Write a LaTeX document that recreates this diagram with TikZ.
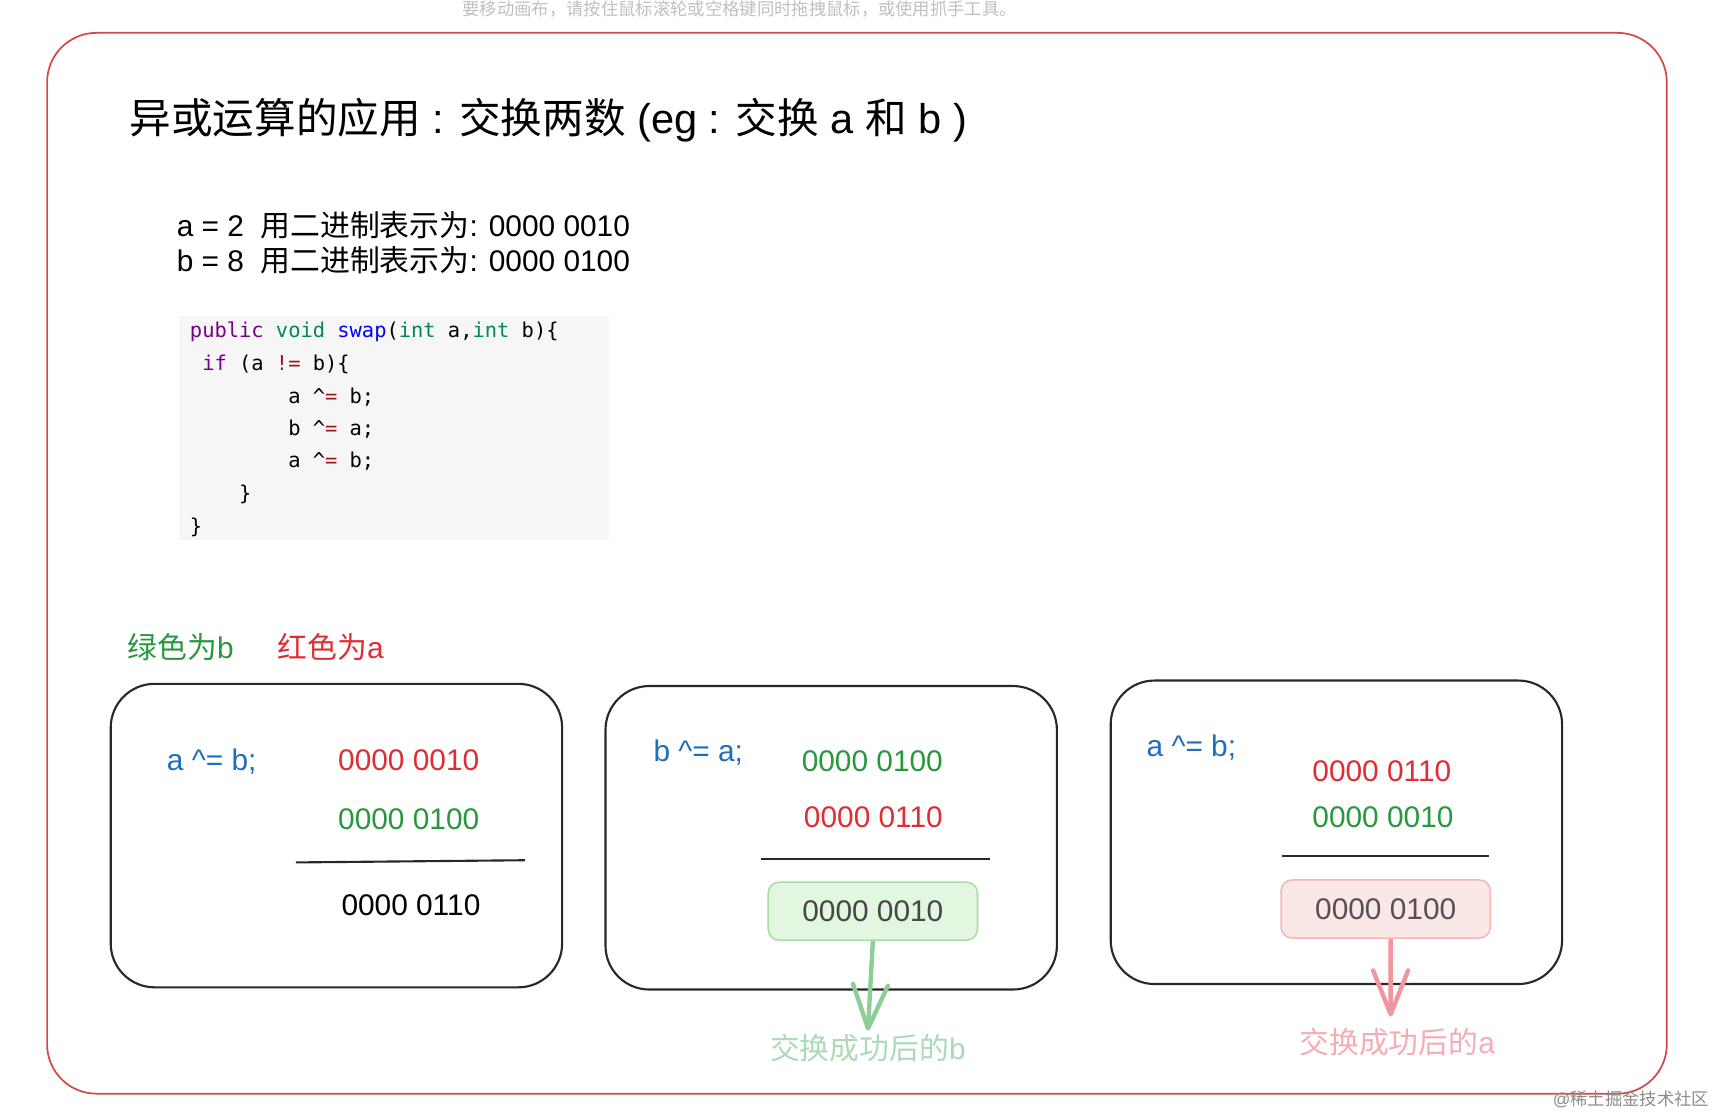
\documentclass[tikz,border=0pt]{standalone}
\usepackage{fontspec}
\setmainfont{Liberation Sans}
\setmonofont{DejaVu Sans Mono}
\newfontfamily\cjk{Noto Sans CJK SC}
\usetikzlibrary{arrows.meta}
\definecolor{framered}{RGB}{214,72,72}
\definecolor{boxline}{RGB}{40,40,40}
\definecolor{opblue}{RGB}{30,110,190}
\definecolor{bgreen}{RGB}{40,152,62}
\definecolor{ared}{RGB}{222,45,52}
\definecolor{codebg}{RGB}{246,246,246}
\definecolor{kwpurple}{RGB}{119,0,136}
\definecolor{kwgreen}{RGB}{0,136,85}
\definecolor{kwblue}{RGB}{0,0,255}
\definecolor{kwred}{RGB}{152,26,26}
\definecolor{resgfill}{RGB}{226,246,224}
\definecolor{resgline}{RGB}{170,220,165}
\definecolor{resrfill}{RGB}{252,231,231}
\definecolor{resrline}{RGB}{244,182,182}
\definecolor{garrow}{RGB}{140,205,152}
\definecolor{glabel}{RGB}{172,218,182}
\definecolor{parrow}{RGB}{240,150,160}
\definecolor{plabel}{RGB}{245,172,180}
\newcommand\zh[1]{{\cjk #1}}
\newcommand\xr{\textasciicircum{\color{kwred}=}}

\begin{document}
\begin{tikzpicture}
[x=0.02cm, y=-0.02cm,
 txt/.style={inner sep=0, font=\fontsize{15.5}{18}\selectfont},
 code/.style={inner sep=0, anchor=base west, font=\ttfamily\fontsize{10.6}{13}\selectfont},
 box/.style={draw=boxline, line width=1.1pt, rounded corners=0.8cm, minimum width=8.24cm, minimum height=5.54cm},
 res/.style={rounded corners=0.2cm, line width=0.8pt, minimum width=3.82cm, minimum height=1.06cm, inner sep=0, font=\fontsize{15.5}{18}\selectfont},
 sumline/.style={draw=boxline, line width=1.1pt},
 done/.style={line width=0.08cm, -{Straight Barb[length=0.8cm,width=0.64cm,round]}}]
\useasboundingbox (0,0) rectangle (1565,1017.5);
% screen hint at the top
\node[inner sep=0, anchor=north, text=black!25, font=\fontsize{9}{10}\selectfont] (hint) at (675,0.5)
  {\zh{要移动画布，请按住鼠标滚轮或空格键同时拖拽鼠标，或使用抓手工具。}};
\draw[framered, line width=0.9pt, rounded corners=0.9cm] (43,30) rectangle (1521,998);

\node[txt, anchor=base west, font=\fontsize{21.6}{26}\selectfont] (title) at (118,122)
  {\zh{异或运算的应用} : \zh{交换两数} (eg : \zh{交换} a \zh{和} b )};
\node[txt, anchor=base west] (vala) at (161,216) {a = 2\ \ \zh{用二进制表示为}: 0000 0010};
\node[txt, anchor=base west] (valb) at (161,248) {b = 8\ \ \zh{用二进制表示为}: 0000 0100};

% code
\fill[codebg] (163,288) rectangle (556,493);
\node[code] (c1) at (173,308) {{\color{kwpurple}public} {\color{kwgreen}void} {\color{kwblue}swap}({\color{kwgreen}int} a,{\color{kwgreen}int} b)\{};
\node[code] (c2) at (173,338) {\phantom{x}{\color{kwpurple}if} (a {\color{kwred}!=} b)\{};
\node[code] (c3) at (173,368) {\phantom{xxxxxxxx}a \xr{} b;};
\node[code] (c4) at (173,397) {\phantom{xxxxxxxx}b \xr{} a;};
\node[code] (c5) at (173,427) {\phantom{xxxxxxxx}a \xr{} b;};
\node[code] (c6) at (173,457) {\phantom{xxxx}\}};
\node[code] (c7) at (173,487) {\}};

\node[txt, anchor=base west, text=bgreen] (keyb) at (116,601) {\zh{绿色为}b};
\node[txt, anchor=base west, text=ared] (keya) at (253,601) {\zh{红色为}a};

% step 1
\node[box] (box1) at (307,762.5) {};
\node[txt, anchor=base west, text=opblue] (op1) at (152,703) {a \textasciicircum= b;};
\node[txt, anchor=base, text=ared] (r1) at (373,703) {0000 0010};
\node[txt, anchor=base, text=bgreen] (g1) at (373,757) {0000 0100};
\draw[sumline] (270,787) -- (479,785);
\node[txt, anchor=base] (s1) at (375,835) {0000 0110};

% step 2
\node[box] (box2) at (758.5,764.5) {};
\node[txt, anchor=base west, text=opblue] (op2) at (596,695) {b \textasciicircum= a;};
\node[txt, anchor=base, text=bgreen] (g2) at (796,704) {0000 0100};
\node[txt, anchor=base, text=ared] (r2) at (797,755) {0000 0110};
\draw[sumline] (694,784) -- (903,784);
\node[res, draw=resgline, fill=resgfill, text=black!72] (res2) at (796.5,831.5) {0000 0010};
\node[txt, anchor=base, text=glabel] (lblb) at (792,967) {\zh{交换成功后的}b};
\draw[done, garrow] (res2.south) -- ([yshift=0.06cm]lblb.north);

% step 3
\node[box] (box3) at (1219.5,759.5) {};
\node[txt, anchor=base west, text=opblue] (op3) at (1046,690) {a \textasciicircum= b;};
\node[txt, anchor=base, text=ared] (r3) at (1261,713) {0000 0110};
\node[txt, anchor=base, text=bgreen] (g3) at (1262,755) {0000 0010};
\draw[sumline] (1170,781) -- (1359,781);
\node[res, draw=resrline, fill=resrfill, text=black!68] (res3) at (1264.5,829.5) {0000 0100};
\node[txt, anchor=base, text=plabel] (lbla) at (1275,961) {\zh{交换成功后的}a};
\draw[done, parrow] ([xshift=0.09cm]res3.south) -- ([xshift=-0.12cm,yshift=0.2cm]lbla.north);

\node[inner sep=0, anchor=base east, text=black!45, font=\fontsize{9}{11}\selectfont] (mark) at (1560,1009) {@\zh{稀土掘金技术社区}};
\end{tikzpicture}
\end{document}
